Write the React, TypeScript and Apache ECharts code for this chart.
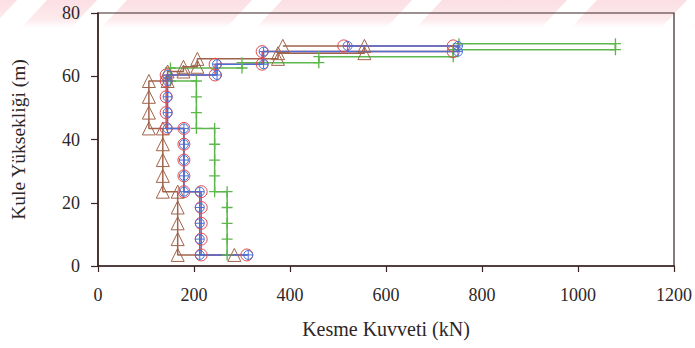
import React, { useEffect, useRef } from "react";
import * as echarts from "echarts";

// Axis ranges (kN on x, metres on y)
const xRange = [0, 1200];
const xStep = 200;
const yRange = [0, 80];
const yStep = 20;

// Storey shear envelopes: shear force (kN) against tower height (m)
const brownShear = [284, 166, 166, 166, 166, 166, 135, 135, 135, 135, 135, 106, 106, 106, 106, 145, 145, 178, 178, 207, 207, 375, 375, 555, 555, 385];
const brownHeight = [3.5, 3.5, 8.5, 13.5, 18.5, 23.5, 23.5, 28.5, 33.5, 38.5, 43.5, 43.5, 48.5, 53.5, 58.5, 58.5, 61.5, 61.5, 63, 63, 65.5, 65.5, 67.3, 67.3, 69.6, 69.6];

const redShear = [310, 215, 215, 215, 215, 215, 179, 179, 179, 179, 179, 142, 142, 142, 142, 142, 244, 244, 342, 342, 740, 740, 512];
const redHeight = [3.5, 3.5, 8.5, 13.5, 18.5, 23.5, 23.5, 28.5, 33.5, 38.5, 43.5, 43.5, 48.5, 53.5, 58.5, 60.4, 60.4, 63.8, 63.8, 67.8, 67.8, 69.6, 69.6];

const blueShear = [313, 212, 212, 212, 212, 212, 179, 179, 179, 179, 179, 145, 145, 145, 145, 145, 248, 248, 345, 345, 750, 750, 520];
const blueHeight = [3.5, 3.5, 8.5, 13.5, 18.5, 23.5, 23.5, 28.5, 33.5, 38.5, 43.5, 43.5, 48.5, 53.5, 58.5, 60.4, 60.4, 63.8, 63.8, 67.8, 67.8, 69.6, 69.6];

const greenShear = [269, 269, 269, 269, 269, 243, 243, 243, 243, 243, 205, 205, 205, 205, 151, 151, 300, 300, 460, 460, 740, 740, 1078, 1078, 752];
const greenHeight = [3.5, 8.5, 13.5, 18.5, 23.5, 23.5, 28.5, 33.5, 38.5, 43.5, 43.5, 48.5, 53.5, 58.5, 58.5, 62.6, 62.6, 64.3, 64.3, 66.2, 66.2, 68.4, 68.4, 70.3, 70.3];

const FONT = "Liberation Serif";
const INK = "#2e2626";
const FRAME = "#3a2424";

const TRIANGLE = "path://M5,0L10,9L0,9Z";
const CIRCLE = "path://M0,5a5,5 0 1,0 10,0a5,5 0 1,0 -10,0Z";
const CIRCLE_CROSS = "path://M0,5a5,5 0 1,0 10,0a5,5 0 1,0 -10,0ZM5,0L5,10M0,5L10,5";
const PLUS = "path://M4.4,0H5.6V4.4H10V5.6H5.6V10H4.4V5.6H0V4.4H4.4Z";

function zip(xs: number[], ys: number[]) {
  return xs.map((x, i) => [x, ys[i]]);
}

function stepSeries(
  name: string,
  xs: number[],
  ys: number[],
  color: string,
  symbol: string,
  size: number,
  filled: boolean
) {
  return {
    name,
    type: "line",
    data: zip(xs, ys),
    symbol,
    symbolSize: size,
    showSymbol: true,
    clip: false,
    lineStyle: { color, width: 1.5 },
    itemStyle: filled
      ? { color, borderWidth: 0 }
      : { color: "rgba(0,0,0,0)", borderColor: color, borderWidth: 1 },
    emphasis: { disabled: true },
  };
}

// Faint pink banner with white diagonal slashes along the top edge
function bannerGraphics() {
  const slashes = [-10, 70, 225, 385, 540, 660];
  const items: any[] = [
    {
      type: "rect",
      z: -10,
      silent: true,
      shape: { x: 0, y: 0, width: 695, height: 28 },
      style: {
        fill: new echarts.graphic.LinearGradient(0, 0, 0, 1, [
          { offset: 0, color: "#fbdfe4" },
          { offset: 0.7, color: "#fdebee" },
          { offset: 1, color: "#ffffff" },
        ]),
      },
    },
  ];
  slashes.forEach((cx) => {
    items.push({
      type: "polygon",
      z: -9,
      silent: true,
      shape: {
        points: [
          [cx, 29],
          [cx + 30, 29],
          [cx + 58, -1],
          [cx + 28, -1],
        ],
      },
      style: { fill: "#ffffff" },
    });
  });
  return items;
}

const plain = (v: number) => String(v);

export default function App() {
  const ref = useRef<HTMLDivElement>(null);

  useEffect(() => {
    document.body.style.margin = "0";
    const chart = echarts.init(ref.current!, null, { renderer: "svg" });
    chart.setOption({
      animation: false,
      backgroundColor: "#ffffff",
      textStyle: { fontFamily: FONT },
      graphic: bannerGraphics(),
      grid: {
        left: 97,
        right: 19,
        top: 13,
        bottom: 82,
        show: true,
        borderColor: FRAME,
        borderWidth: 1.2,
        backgroundColor: "rgba(0,0,0,0)",
      },
      xAxis: {
        type: "value",
        min: xRange[0],
        max: xRange[1],
        interval: xStep,
        name: "Kesme Kuvveti (kN)",
        nameLocation: "middle",
        nameGap: 53,
        nameTextStyle: { fontFamily: FONT, fontSize: 20, color: INK },
        axisLine: { show: true, onZero: false, lineStyle: { color: FRAME, width: 1.6 } },
        axisTick: { show: true, inside: false, length: 6, lineStyle: { color: FRAME, width: 1.2 } },
        axisLabel: { margin: 20, fontFamily: FONT, fontSize: 18, color: INK, formatter: plain },
        splitLine: { show: false },
      },
      yAxis: {
        type: "value",
        min: yRange[0],
        max: yRange[1],
        interval: yStep,
        name: "Kule Yüksekliği (m)",
        nameLocation: "middle",
        nameGap: 70,
        nameTextStyle: { fontFamily: FONT, fontSize: 19.5, color: INK },
        axisLine: { show: true, onZero: false, lineStyle: { color: FRAME, width: 1.6 } },
        axisTick: { show: true, inside: false, length: 7, lineStyle: { color: FRAME, width: 1.2 } },
        axisLabel: { margin: 18, fontFamily: FONT, fontSize: 18, color: INK, formatter: plain },
        splitLine: { show: false },
      },
      series: [
        stepSeries("green", greenShear, greenHeight, "#5cb84c", PLUS, 11, true),
        stepSeries("brown", brownShear, brownHeight, "#a0634a", TRIANGLE, 13, false),
        stepSeries("red", redShear, redHeight, "#e04a4f", CIRCLE, 12, false),
        stepSeries("blue", blueShear, blueHeight, "#4a70d4", CIRCLE_CROSS, 9, false),
      ],
    });
    return () => chart.dispose();
  }, []);

  return <div ref={ref} style={{ width: 695, height: 348 }} />;
}
